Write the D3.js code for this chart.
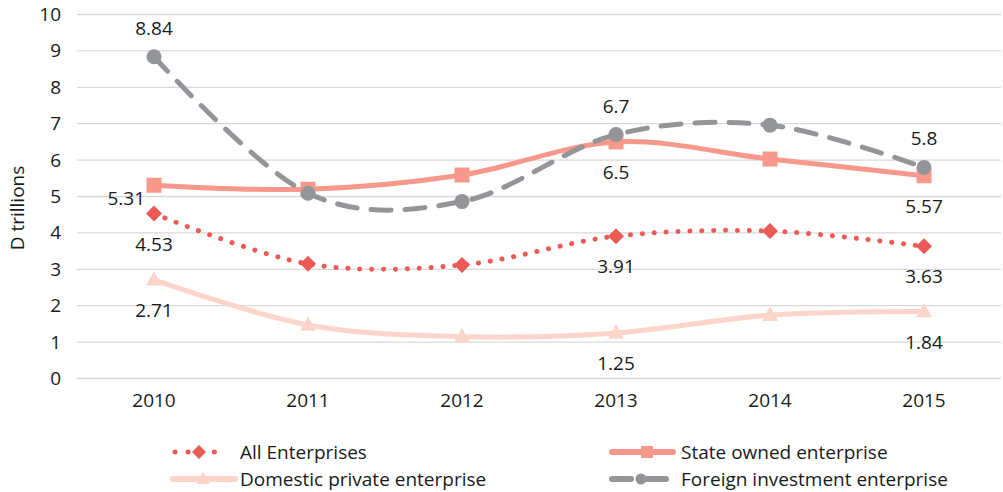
<!DOCTYPE html>
<html>
<head>
<meta charset="utf-8">
<script src="https://cdn.jsdelivr.net/npm/d3@7/dist/d3.min.js"></script>
<style>
  html, body { margin: 0; padding: 0; background: #fff; }
  svg { display: block; font-family: "Open Sans", "Noto Sans", sans-serif; }
</style>
</head>
<body>
<svg id="chart" width="1003" height="492"></svg>
<script>
const years = ["2010", "2011", "2012", "2013", "2014", "2015"];
const allEnterprises = [4.53, 3.15, 3.12, 3.91, 4.05, 3.63];
const stateOwned = [5.31, 5.2, 5.59, 6.5, 6.03, 5.57];
const domesticPrivate = [2.71, 1.47, 1.15, 1.25, 1.74, 1.84];
const foreignInvestment = [8.84, 5.09, 4.86, 6.7, 6.96, 5.8];
const yTicks = [0, 1, 2, 3, 4, 5, 6, 7, 8, 9, 10];

const FS = 19;
const TEXT = "#1a1a1a";

const series = [
  { name: "All Enterprises", values: allEnterprises, color: "#ec5a55", width: 5, dash: "0.1 11.8", marker: "diamond", size: 16,
    labels: [{ i: 0, pos: "below" }, { i: 3, pos: "below" }, { i: 5, pos: "below" }] },
  { name: "State owned enterprise", values: stateOwned, color: "#f6988b", width: 5, dash: null, marker: "square", size: 15,
    labels: [{ i: 0, pos: "left" }, { i: 3, pos: "below" }, { i: 5, pos: "below" }] },
  { name: "Domestic private enterprise", values: domesticPrivate, color: "#fbd4ca", width: 5, dash: null, marker: "triangle", size: 16,
    labels: [{ i: 0, pos: "below" }, { i: 3, pos: "below" }, { i: 5, pos: "below" }] },
  { name: "Foreign investment enterprise", values: foreignInvestment, color: "#939598", width: 5, dash: "20 14", marker: "circle", size: 15,
    labels: [{ i: 0, pos: "above" }, { i: 3, pos: "above" }, { i: 5, pos: "above" }] }
];

const svg = d3.select("#chart");
const x = d3.scaleBand().domain(years).range([77, 1001]);
const y = d3.scaleLinear().domain([0, 10]).range([378.5, 14.5]);
const cx = d => x(d) + x.bandwidth() / 2;

// gridlines
svg.append("g").selectAll("line").data(yTicks).join("line")
  .attr("x1", 77).attr("x2", 1001)
  .attr("y1", d => y(d)).attr("y2", d => y(d))
  .attr("stroke", "#d9d9d9").attr("stroke-width", 1.3);

// y axis labels
const yAxis = svg.append("g").attr("transform", "translate(61,0)")
  .call(d3.axisLeft(y).tickValues(yTicks).tickSize(0).tickPadding(0));
yAxis.select(".domain").remove();
yAxis.selectAll("text").attr("font-size", FS).attr("fill", TEXT)
  .style("font-family", "'Open Sans', sans-serif");

// x axis labels
const xAxis = svg.append("g").attr("transform", "translate(0,393)")
  .call(d3.axisBottom(x).tickSize(0).tickPadding(0));
xAxis.select(".domain").remove();
xAxis.selectAll("text").attr("font-size", FS).attr("fill", TEXT)
  .style("font-family", "'Open Sans', sans-serif");

// y axis title
svg.append("text")
  .attr("transform", "translate(24,208) rotate(-90)")
  .attr("text-anchor", "middle")
  .attr("font-size", FS).attr("fill", TEXT)
  .text("D trillions");

function drawMarker(g, kind, px, py, size, color) {
  if (kind === "diamond") {
    const h = size / 2;
    g.append("path").attr("d", `M${px},${py - h}L${px + h},${py}L${px},${py + h}L${px - h},${py}Z`).attr("fill", color);
  } else if (kind === "square") {
    g.append("rect").attr("x", px - size / 2).attr("y", py - size / 2).attr("width", size).attr("height", size).attr("fill", color);
  } else if (kind === "triangle") {
    const h = size * 0.9;
    g.append("path").attr("d", `M${px},${py - h * 0.6}L${px + size / 2},${py + h * 0.4}L${px - size / 2},${py + h * 0.4}Z`).attr("fill", color);
  } else {
    g.append("circle").attr("cx", px).attr("cy", py).attr("r", size / 2).attr("fill", color);
  }
}

const line = d3.line().x(d => cx(d.year)).y(d => y(d.v)).curve(d3.curveCardinal.tension(0));

// draw back to front: domestic, all, state, foreign
const order = [2, 0, 1, 3];
order.forEach(si => {
  const s = series[si];
  const g = svg.append("g");
  const pts = years.map((yr, i) => ({ year: yr, v: s.values[i] }));
  const p = g.append("path").datum(pts).attr("d", line)
    .attr("fill", "none").attr("stroke", s.color).attr("stroke-width", s.width)
    .attr("stroke-linecap", "round");
  if (s.dash) p.attr("stroke-dasharray", s.dash);
  if (s.marker === "square" || s.marker === "triangle") p.attr("stroke-linecap", "butt");
  pts.forEach(d => drawMarker(g, s.marker, cx(d.year), y(d.v), s.size, s.color));
});

// data labels
series.forEach(s => {
  s.labels.forEach(l => {
    const v = s.values[l.i];
    const px = cx(years[l.i]);
    const py = y(v);
    let tx = px, ty = py, anchor = "middle";
    if (l.pos === "above") ty = py - 22;
    else if (l.pos === "below") ty = py + 37;
    else if (l.pos === "left") { tx = px - 9; ty = py + 20; anchor = "end"; }
    svg.append("text").attr("x", tx).attr("y", ty)
      .attr("text-anchor", anchor).attr("font-size", FS).attr("fill", TEXT)
      .text(v);
  });
});

// legend
const legendItems = [
  { s: series[0], x1: 175, x2: 227, mx: 199, y: 452, tx: 240 },
  { s: series[1], x1: 612, x2: 673, mx: 647, y: 452, tx: 681 },
  { s: series[2], x1: 173, x2: 235, mx: 203, y: 479, tx: 240 },
  { s: series[3], x1: 612, x2: 673, mx: 641, y: 479, tx: 681 }
];
legendItems.forEach(item => {
  const s = item.s;
  const g = svg.append("g");
  const { x1, x2 } = item;
  const ln = g.append("line").attr("x1", x1).attr("x2", x2).attr("y1", item.y).attr("y2", item.y)
    .attr("stroke", s.color).attr("stroke-width", 6).attr("stroke-linecap", "round");
  if (s.marker === "diamond") ln.attr("stroke-dasharray", "0.1 13").attr("stroke-width", 5);
  if (s.marker === "circle") ln.attr("stroke-dasharray", "19 16");
  const msize = s.marker === "circle" ? 11 : s.marker === "square" ? 12 : 14;
  drawMarker(g, s.marker, item.mx, item.y, msize, s.color);
  svg.append("text").attr("x", item.tx).attr("y", item.y + 7)
    .attr("font-size", FS).attr("fill", TEXT).text(s.name);
});
</script>
</body>
</html>
